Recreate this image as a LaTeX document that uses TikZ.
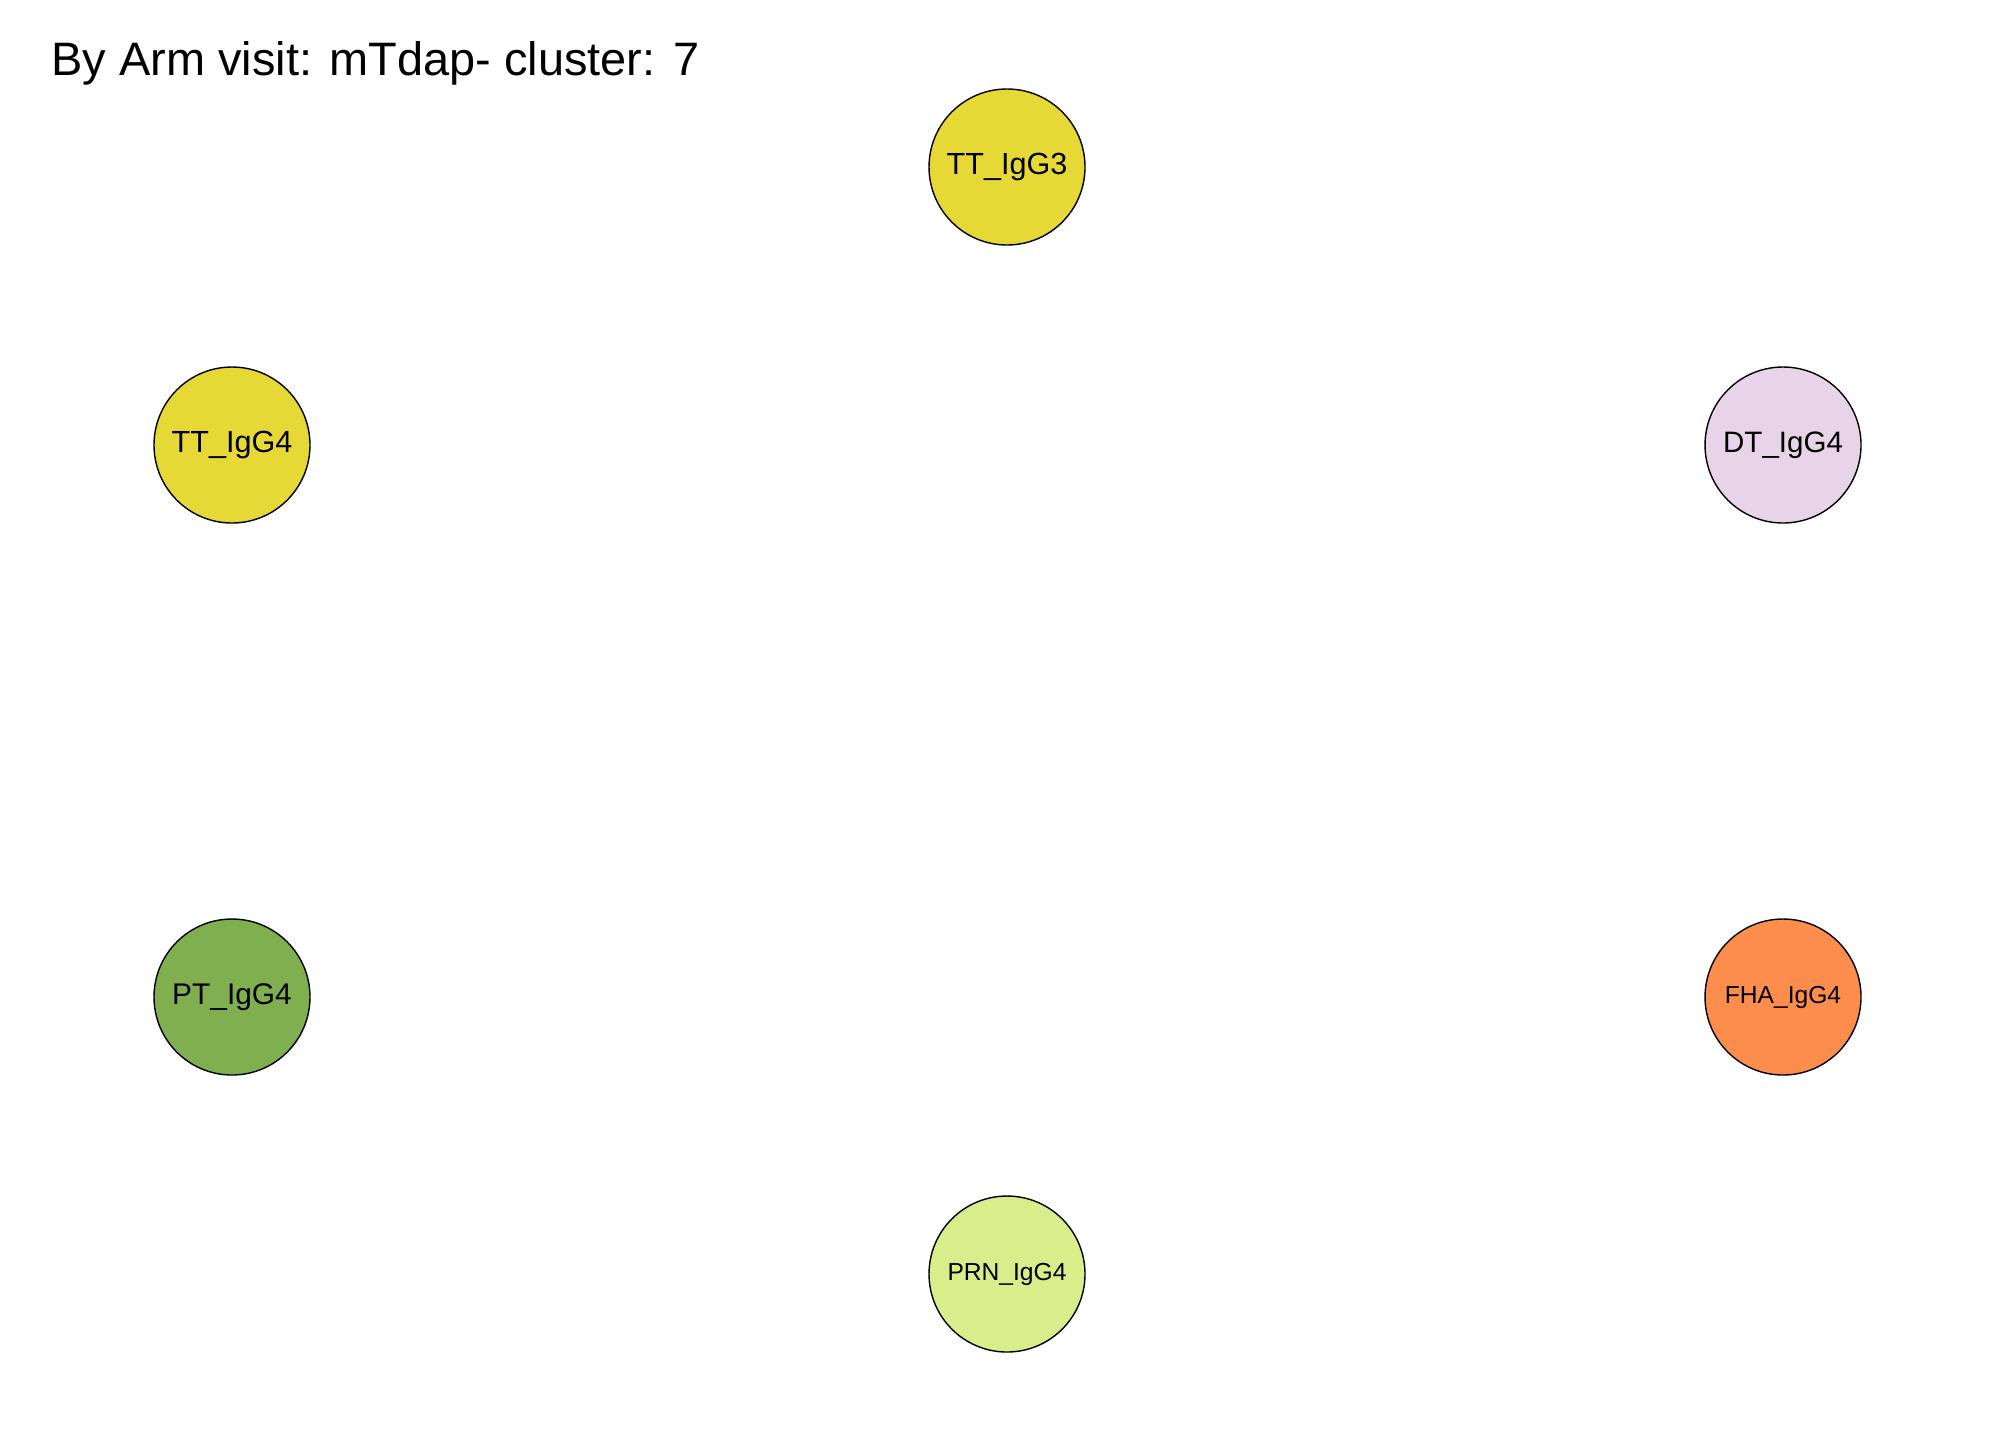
\documentclass[tikz,border=0pt]{standalone}
\usepackage{fontspec}
\setmainfont{Liberation Sans}

\definecolor{ttyellow}{RGB}{230,217,54}
\definecolor{dtlilac}{RGB}{231,212,232}
\definecolor{ptgreen}{RGB}{127,175,79}
\definecolor{fhaorange}{RGB}{252,141,77}
\definecolor{prnlime}{RGB}{217,237,138}

\begin{document}
\begin{tikzpicture}[%
        x = 1cm, y = -1cm,
        vertex/.style = {%
            circle,
            draw = black,
            line width = 0.4pt,
            minimum size = 1.56cm,
            inner sep = 0pt
        }
    ]

        % Fix the page to the size of the reference.
        \useasboundingbox (0, 0) rectangle (20.16, 14.40);

        % Title.
        \node[anchor = base west, inner sep = 0pt, font = \fontsize{13.35}{16}\selectfont]
            (title) at (0.51, 0.75) {By Arm visit: mTdap- cluster: 7};

        % The six vertices of the cluster.
        \node[vertex, fill = ttyellow, font = \fontsize{8.7}{10}\selectfont]
            (ttigg3) at (10.07, 1.67) {TT\_IgG3};
        \node[vertex, fill = ttyellow, font = \fontsize{8.7}{10}\selectfont]
            (ttigg4) at (2.32, 4.45) {TT\_IgG4};
        \node[vertex, fill = dtlilac, font = \fontsize{8.4}{10}\selectfont]
            (dtigg4) at (17.83, 4.45) {DT\_IgG4};
        \node[vertex, fill = ptgreen, font = \fontsize{8.5}{10}\selectfont]
            (ptigg4) at (2.32, 9.97) {PT\_IgG4};
        \node[vertex, fill = fhaorange, font = \fontsize{7}{9}\selectfont]
            (fhaigg4) at (17.83, 9.97) {FHA\_IgG4};
        \node[vertex, fill = prnlime, font = \fontsize{7}{9}\selectfont]
            (prnigg4) at (10.07, 12.74) {PRN\_IgG4};
    \end{tikzpicture}
\end{document}
